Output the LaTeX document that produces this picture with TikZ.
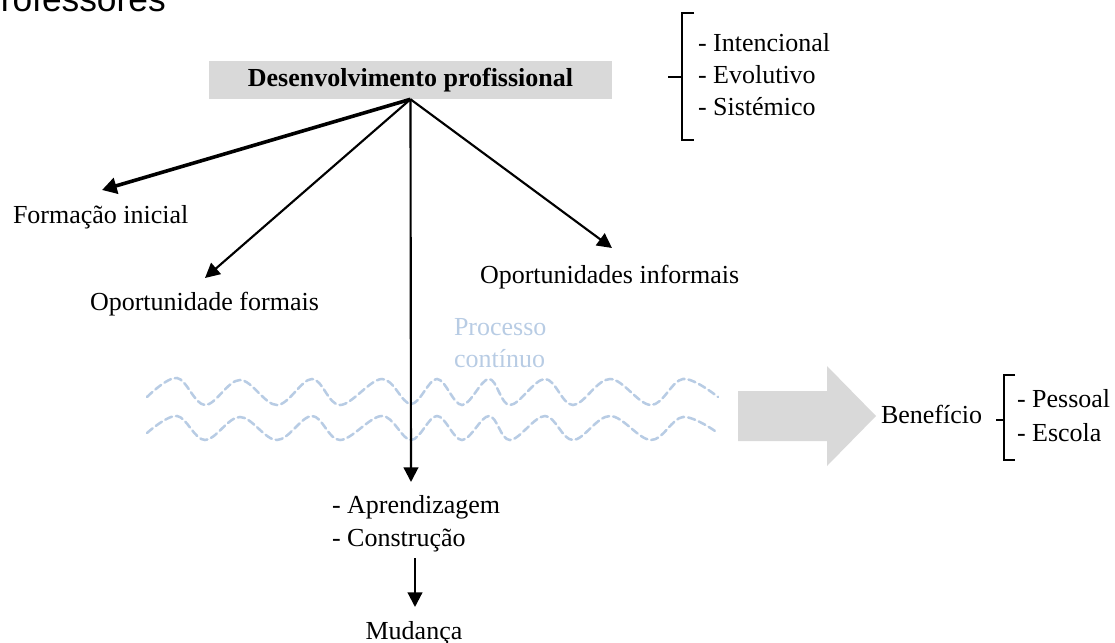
\documentclass[tikz,border=0pt]{standalone}
\usepackage{fontspec}
\setmainfont{Liberation Serif}
\newfontfamily\headsans{Liberation Sans}
\usetikzlibrary{arrows.meta}
\definecolor{boxgray}{HTML}{D9D9D9}
\definecolor{wavblue}{HTML}{B8CCE4}
\tikzset{
  txt/.style={inner sep=0pt, outer sep=0pt, anchor=base west, font=\fontsize{19.5}{24}\selectfont},
  branch/.style={line width=1.6pt, -{Triangle[length=11pt,width=11pt]}},
  thickbranch/.style={line width=2.7pt, -{Triangle[length=11pt,width=12pt]}},
  brk/.style={line width=2.2pt, line cap=butt, line join=miter},
  wave/.style={draw=wavblue, line width=1.9pt, dash pattern=on 5.5pt off 3pt, line cap=round},
}
\begin{document}
\begin{tikzpicture}[x=0.75pt, y=-0.75pt]
\useasboundingbox (0,0) rectangle (1115,643);

% heading line cut by the page edge
\begin{scope}
  \clip (0,0) rectangle (1115,643);
  \node[inner sep=0pt, anchor=base east, font=\headsans\fontsize{26.5}{30}\selectfont] (head) at (166,11) {professores};
\end{scope}

% title
\node[fill=boxgray, minimum width=403*0.75pt, minimum height=38*0.75pt, inner sep=0pt,
      font=\bfseries\fontsize{19.5}{24}\selectfont] (dp) at (410.5,80) {Desenvolvimento profissional};

% qualities of the development
\node[txt] (q1) at (698,51) {- Intencional};
\node[txt] (q2) at (698,83) {- Evolutivo};
\node[txt] (q3) at (698,115) {- Sistémico};
\draw[brk] (694,13) -- (682,13) -- (682,140) -- (694,140);
\draw[brk] (682,77) -- (668,77);

% branches
\node[txt] (fi) at (13,223) {Formação inicial};
\node[txt] (of) at (90,310) {Oportunidade formais};
\node[txt] (oi) at (480,283) {Oportunidades informais};
\coordinate (tfi) at (102,190);
\coordinate (tof) at (205,278);
\coordinate (toi) at (612,248);
\coordinate (tap) at (411,482);

\draw[thickbranch] (dp.south) -- (tfi);
\draw[branch] (dp.south) -- (tof);
\draw[branch] (dp.south) -- (toi);

% continuous process
\node[txt, text=wavblue] (pc1) at (454,335) {Processo};
\node[txt, text=wavblue] (pc2) at (454,367) {contínuo};
\draw[wave] plot[smooth, tension=0.6] coordinates {(147,397) (177,378) (205,405) (240,380) (277,405) (312,379) (340,405) (382,379) (411,404) (437,379) (462,405) (489,379) (510,405) (545,379) (573,405) (610,379) (651,405) (683,379) (718,397)};
\draw[wave] plot[smooth, tension=0.6] coordinates {(147,433) (177,416) (205,440) (240,417) (277,440) (312,416) (340,440) (382,416) (411,440) (437,416) (462,440) (489,416) (510,440) (545,416) (573,440) (610,416) (651,440) (683,417) (718,433)};

\draw[branch] (dp.south) -- (tap);

% outcome
\node[txt] (ap1) at (332,513) {- Aprendizagem};
\node[txt] (ap2) at (332,546) {- Construção};
\node[txt, anchor=base] (mu) at (414,639) {Mudança};
\coordinate (mus) at (415,558);
\coordinate (mue) at (415,607);
\draw[branch] (mus) -- (mue);

% benefit
\fill[boxgray] (738,391) -- (827,391) -- (827,366) -- (876,416) -- (827,466) -- (827,441) -- (738,441) -- cycle;
\node[txt] (be) at (881,423) {Benefício};
\node[txt] (b1) at (1017,407) {- Pessoal};
\node[txt] (b2) at (1017,441) {- Escola};
\draw[brk] (1015,375) -- (1004,375) -- (1004,460) -- (1015,460);
\draw[brk] (1004,420) -- (996,420);
\end{tikzpicture}
\end{document}
